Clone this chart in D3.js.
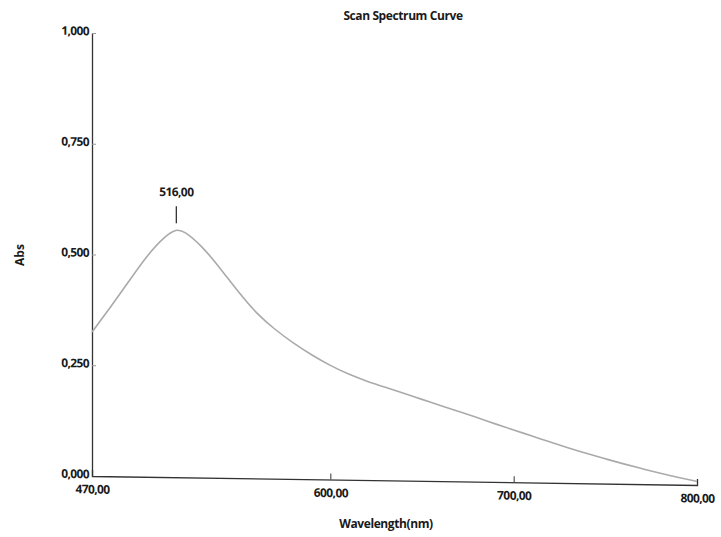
<!DOCTYPE html>
<html>
<head>
<meta charset="utf-8">
<script src="https://cdn.jsdelivr.net/npm/d3@7"></script>
<style>
  body { margin: 0; background: #fff; }
  svg text { font-family: "Open Sans", "Liberation Sans", sans-serif; fill: #1a1a1a; }
</style>
</head>
<body>
<div id="chart"></div>
<script>
// wavelength (nm) and absorbance
var wavelength = [470, 480, 490, 500, 510, 516, 520, 530, 540, 550, 560, 570, 580, 590, 600,
                  610, 620, 630, 640, 650, 660, 670, 680, 690, 700, 710, 720, 730, 740, 750,
                  760, 770, 780, 790, 800];
var absorbance = [0.325, 0.381, 0.440, 0.500, 0.545, 0.560, 0.557, 0.523, 0.473, 0.419, 0.371, 0.336, 0.306, 0.280, 0.257,
                  0.238, 0.223, 0.210, 0.197, 0.184, 0.171, 0.158, 0.145, 0.131, 0.118, 0.105, 0.092, 0.079, 0.067, 0.056,
                  0.045, 0.035, 0.025, 0.016, 0.008];
var xTicks = [470, 600, 700, 800];
var yTicks = [0, 0.25, 0.5, 0.75, 1];
var peakWl = 516, peakAbs = 0.560;

var width = 721, height = 537;
var margin = {top: 33, right: 24, bottom: 61, left: 92};
var w = width - margin.left - margin.right,
    h = height - margin.top - margin.bottom;

var svg = d3.select("#chart")
  .append("svg")
    .attr("width", width)
    .attr("height", height);

// title
svg.append("text")
  .attr("x", 403)
  .attr("y", 20)
  .attr("text-anchor", "middle")
  .style("font-size", "12px")
  .style("font-weight", "bold")
  .style("letter-spacing", "-0.4px")
  .text("Scan Spectrum Curve");

// plot group, slightly sheared like the scanned page
var g = svg.append("g")
  .attr("transform", "translate(" + margin.left + "," + (margin.top + h) + ") skewY(0.85)");

var x = d3.scaleLinear().domain([470, 800]).range([0, w]);
var y = d3.scaleLinear().domain([0, 1]).range([0, -h]);

var comma = function(f) { return function(d) { return f(d).replace(".", ","); }; };

// y axis, ticks pointing inward
var yAxis = g.append("g")
  .call(d3.axisLeft(y).tickValues(yTicks).tickFormat(comma(d3.format(".3f")))
    .tickSizeInner(-4).tickSizeOuter(0).tickPadding(3));
yAxis.select(".domain").attr("stroke", "#333").attr("stroke-width", 1.3);
yAxis.selectAll(".tick line").attr("stroke", "#999");
yAxis.selectAll("text").attr("dy", "0.15em").style("font-size", "12px").style("font-weight", "bold")
  .style("letter-spacing", "-0.6px");

// x axis, ticks pointing up
var xAxis = g.append("g")
  .call(d3.axisBottom(x).tickValues(xTicks).tickFormat(comma(d3.format(".2f")))
    .tickSizeInner(-6).tickSizeOuter(-6).tickPadding(9));
xAxis.select(".domain").attr("stroke", "#333").attr("stroke-width", 1.3);
xAxis.selectAll(".tick line").attr("stroke", "#333");
xAxis.selectAll("text").style("font-size", "12px").style("font-weight", "bold")
  .style("letter-spacing", "-0.6px");

// spectrum curve
var line = d3.line()
  .x(function(d) { return x(d[0]); })
  .y(function(d) { return y(d[1]); })
  .curve(d3.curveBasis);
g.append("path")
  .datum(d3.zip(wavelength, absorbance))
  .attr("d", line)
  .attr("fill", "none")
  .attr("stroke", "#aaaaaa")
  .attr("stroke-width", 1.6);

// peak marker
g.append("line")
  .attr("x1", x(peakWl)).attr("x2", x(peakWl))
  .attr("y1", y(peakAbs) - 6).attr("y2", y(peakAbs) - 23)
  .attr("stroke", "#333").attr("stroke-width", 1.3);
g.append("text")
  .attr("x", x(peakWl))
  .attr("y", y(peakAbs) - 33)
  .attr("text-anchor", "middle")
  .style("font-size", "12px")
  .style("font-weight", "bold")
  .style("letter-spacing", "-0.6px")
  .text(d3.format(".2f")(peakWl).replace(".", ","));

// axis titles
svg.append("text")
  .attr("x", 386)
  .attr("y", 528)
  .attr("text-anchor", "middle")
  .style("font-size", "12px")
  .style("font-weight", "bold")
  .style("letter-spacing", "-0.4px")
  .text("Wavelength(nm)");

svg.append("text")
  .attr("transform", "translate(24,255) rotate(-90)")
  .attr("text-anchor", "middle")
  .style("font-size", "12px")
  .style("font-weight", "bold")
  .text("Abs");
</script>
</body>
</html>
